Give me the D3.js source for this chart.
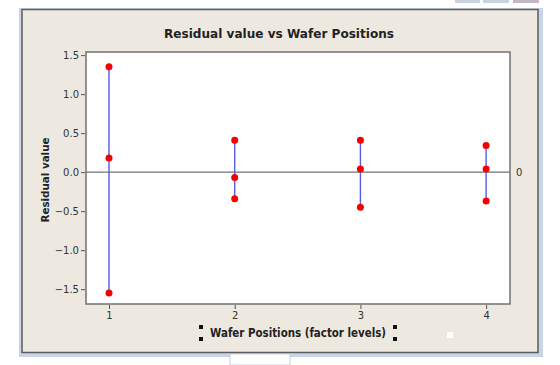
<!DOCTYPE html>
<html>
<head>
<meta charset="utf-8">
<script src="https://cdn.jsdelivr.net/npm/d3@7"></script>
<style>
  body { margin: 0; background: #fff; }
  svg { display: block; }
</style>
</head>
<body>
<svg id="drawing_region"></svg>
<script>
const levels = [1, 2, 3, 4];
const highRes = [1.35, 0.41, 0.41, 0.34];
const midRes = [0.18, -0.07, 0.04, 0.04];
const lowRes = [-1.55, -0.34, -0.45, -0.37];
const yTicks = [-1.5, -1.0, -0.5, 0.0, 0.5, 1.0, 1.5];
const refLine = 0;

const config = {
    width: 560,
    height: 365,
    plot: { left: 86, top: 52, right: 510, bottom: 304 }
};

const font = "Tahoma, 'DejaVu Sans', 'Noto Sans', sans-serif";

const svg = d3.select('#drawing_region')
    .attr('width', config.width)
    .attr('height', config.height);

// window chrome around the Minitab graph
svg.append('rect').attr('x', 455).attr('y', 0).attr('width', 25).attr('height', 3).attr('fill', '#c9d3e0');
svg.append('rect').attr('x', 483).attr('y', 0).attr('width', 26).attr('height', 3).attr('fill', '#c9d3e0');
svg.append('rect').attr('x', 513).attr('y', 0).attr('width', 26).attr('height', 3).attr('fill', '#c4b8c4');
svg.append('rect').attr('x', 19).attr('y', 8).attr('width', 524).attr('height', 349).attr('fill', '#c7d6ea');
svg.append('rect').attr('x', 22).attr('y', 9.5).attr('width', 516).attr('height', 343)
    .attr('fill', '#ede9e0').attr('stroke', '#5c5c5c').attr('stroke-width', 1.5);
svg.append('rect').attr('x', 230).attr('y', 354).attr('width', 60).attr('height', 11).attr('fill', '#ffffff')
    .attr('stroke', '#b8c4d4').attr('stroke-width', 0.8);

const p = config.plot;
const xscale = d3.scaleLinear().domain([0.817, 4.19]).range([p.left, p.right]);
const yscale = d3.scaleLinear().domain([-1.69, 1.54]).range([p.bottom, p.top]);

svg.append('rect')
    .attr('x', p.left).attr('y', p.top)
    .attr('width', p.right - p.left).attr('height', p.bottom - p.top)
    .attr('fill', '#fff').attr('stroke', '#707070').attr('stroke-width', 1.5);

const yaxis = d3.axisLeft(yscale).tickValues(yTicks).tickSize(4).tickPadding(2)
    .tickFormat(d3.format('.1f'));
const xaxis = d3.axisBottom(xscale).tickValues(levels).tickSize(4).tickPadding(3)
    .tickFormat(d3.format('d'));

const yg = svg.append('g').attr('transform', `translate(${p.left - 1},0)`).call(yaxis);
const xg = svg.append('g').attr('transform', `translate(0,${p.bottom + 1})`).call(xaxis);
[yg, xg].forEach(g => {
    g.select('.domain').remove();
    g.selectAll('line').attr('stroke', '#555');
    g.selectAll('text').attr('font-family', font).attr('font-size', 10).attr('fill', '#333');
});

// zero reference line
svg.append('line')
    .attr('x1', p.left).attr('x2', p.right)
    .attr('y1', yscale(refLine)).attr('y2', yscale(refLine))
    .attr('stroke', '#707070').attr('stroke-width', 1.3);
svg.append('text')
    .attr('x', p.right + 6).attr('y', yscale(refLine) + 4)
    .attr('font-family', font).attr('font-size', 10).attr('fill', '#333')
    .text(refLine);

// range lines
svg.selectAll('line.range')
    .data(levels)
    .enter()
    .append('line')
    .attr('class', 'range')
    .attr('x1', d => xscale(d)).attr('x2', d => xscale(d))
    .attr('y1', (d, i) => yscale(highRes[i]))
    .attr('y2', (d, i) => yscale(lowRes[i]))
    .attr('stroke', '#5a5ae6').attr('stroke-width', 1.4);

const points = [];
levels.forEach((lv, i) => {
    [highRes[i], midRes[i], lowRes[i]].forEach(v => points.push({ x: lv, y: v }));
});

svg.selectAll('circle')
    .data(points)
    .enter()
    .append('circle')
    .attr('cx', d => xscale(d.x))
    .attr('cy', d => yscale(d.y))
    .attr('r', 3.5)
    .attr('fill', '#f40000');

// titles
svg.append('text')
    .attr('x', 279).attr('y', 38)
    .attr('text-anchor', 'middle')
    .attr('font-family', font).attr('font-size', 13).attr('font-weight', 'bold')
    .attr('textLength', 230).attr('lengthAdjust', 'spacingAndGlyphs')
    .attr('fill', '#222')
    .text('Residual value vs Wafer Positions');

svg.append('text')
    .attr('transform', 'translate(49,180) rotate(-90)')
    .attr('text-anchor', 'middle')
    .attr('font-family', font).attr('font-size', 11).attr('font-weight', 'bold')
    .attr('textLength', 85).attr('lengthAdjust', 'spacingAndGlyphs')
    .attr('fill', '#222')
    .text('Residual value');

svg.append('text')
    .attr('x', 298).attr('y', 337)
    .attr('text-anchor', 'middle')
    .attr('font-family', font).attr('font-size', 12).attr('font-weight', 'bold')
    .attr('textLength', 176).attr('lengthAdjust', 'spacingAndGlyphs')
    .attr('fill', '#222')
    .text('Wafer Positions (factor levels)');

// selection handles around the x label
[199, 393].forEach(x => {
    [325, 337].forEach(y => {
        svg.append('rect').attr('x', x).attr('y', y).attr('width', 4).attr('height', 4).attr('fill', '#111');
    });
});
svg.append('rect').attr('x', 447).attr('y', 332).attr('width', 6).attr('height', 6).attr('fill', '#fff');
</script>
</body>
</html>
